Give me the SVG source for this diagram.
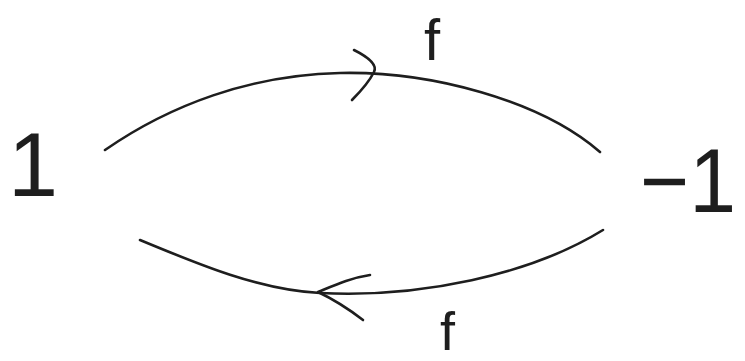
<svg xmlns="http://www.w3.org/2000/svg" width="745" height="361" viewBox="0 0 745 361">
<style>
.s{fill:none;stroke:#1e1e1e;stroke-width:2.6;stroke-linecap:round;stroke-linejoin:round}
.t{font-family:"Liberation Sans",Arial,sans-serif;fill:#1e1e1e;font-weight:normal}
</style>
<rect width="745" height="361" fill="#ffffff"/>
<g id="node-1"><text class="t" x="8" y="196" font-size="90">1</text></g>
<g id="node-minus1"><text class="t" x="640" y="212" font-size="90" textLength="96" lengthAdjust="spacingAndGlyphs">−1</text></g>
<g id="connectors">
<g id="edge-top">
<path class="s" d="M105,150 C170,105 250,75 340,73 C430,71 540,100 600,152"/>
<path class="s" d="M354,50 C366,56 378,64 374,72 C368,84 360,92 352,100"/>
<text class="t" x="424" y="60" font-size="58">f</text>
</g>
<g id="edge-bottom">
<path class="s" d="M140,240 C200,265 260,290 320,293 C420,298 530,275 603,230"/>
<path class="s" d="M370,275 C350,278 335,285 318,292 C335,300 350,310 363,320"/>
<text class="t" x="440" y="350" font-size="54">f</text>
</g>
</g>
</svg>
